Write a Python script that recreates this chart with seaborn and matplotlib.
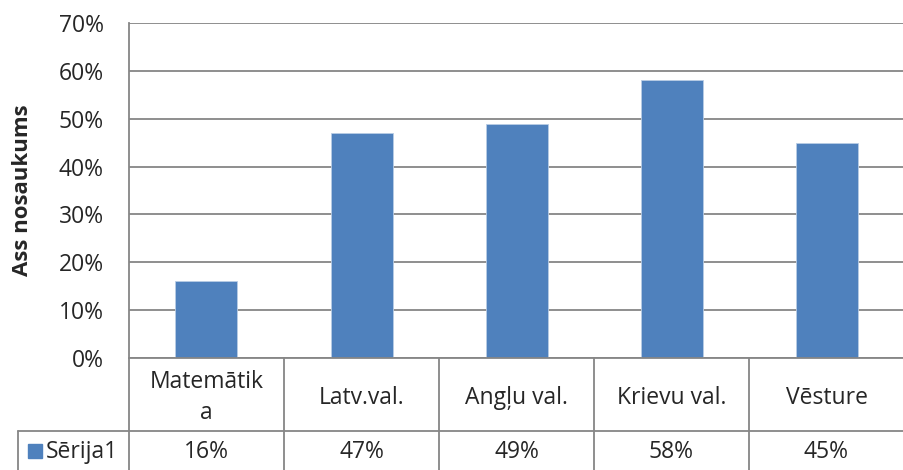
import matplotlib
matplotlib.use("Agg")
import matplotlib.pyplot as plt
import matplotlib.transforms as mtransforms
import seaborn as sns

# === dati ===
categories = ["Matemātika", "Latv.val.", "Angļu val.", "Krievu val.", "Vēsture"]
tick_labels = ["Matemātik\na", "Latv.val.", "Angļu val.", "Krievu val.", "Vēsture"]
values = [0.16, 0.47, 0.49, 0.58, 0.45]
series_name = "Sērija1"
y_ticks = [0.0, 0.1, 0.2, 0.3, 0.4, 0.5, 0.6, 0.7]

bar_color = "#4F81BD"
line_color = "#868686"
fs = 16.5

sns.set_style("white")
plt.rcParams["font.family"] = ["Open Sans", "DejaVu Sans"]

W, H = 904, 470
fig = plt.figure(figsize=(W / 100, H / 100), dpi=100)

# plot area in pixel coords
left, right, top, bottom = 129, 904, 23, 358
ax = fig.add_axes([left / W, 1 - bottom / H, (right - left) / W, (bottom - top) / H])

sns.barplot(x=categories, y=values, color=bar_color, width=0.4,
            saturation=1, ax=ax, edgecolor="#B9CDE5", linewidth=0.6)

ax.set_xlim(-0.5, len(categories) - 0.5)
ax.set_ylim(0, 0.7)
ax.set_yticks(y_ticks)
ax.set_yticklabels([f"{int(round(t * 100))}%" for t in y_ticks], fontsize=fs)
ax.tick_params(axis="y", length=0, pad=18)
ax.set_xticks([])
ax.set_xlabel("")
ax.set_ylabel("")
ax.yaxis.grid(True, color=line_color, linewidth=1.3)
ax.set_axisbelow(True)
for s in ["top", "right", "bottom"]:
    ax.spines[s].set_visible(False)
ax.spines["left"].set_color(line_color)
ax.spines["left"].set_linewidth(1.3)

# === datu tabula zem ass ===
plot_h = bottom - top
row1 = -(431 - bottom) / plot_h
row2 = -(470 - bottom) / plot_h
trans = mtransforms.blended_transform_factory(ax.transData, ax.transAxes)
legend_x = -(left - 18) / (right - left) * len(categories) - 0.5

lw = 1.3
# horizontal lines
ax.plot([-0.5, len(categories) - 0.5], [0, 0], transform=trans, color=line_color,
        lw=lw, clip_on=False)
ax.plot([legend_x, len(categories) - 0.5], [row1, row1], transform=trans,
        color=line_color, lw=lw, clip_on=False)
# vertical lines
for i in range(len(categories) + 1):
    ax.plot([i - 0.5, i - 0.5], [0, row2], transform=trans, color=line_color,
            lw=lw, clip_on=False)
ax.plot([legend_x, legend_x], [row1, row2], transform=trans, color=line_color,
        lw=lw, clip_on=False)

dy = 3 / plot_h
for i, (lab, v) in enumerate(zip(tick_labels, values)):
    ax.text(i, row1 / 2 - dy, lab, transform=trans, ha="center", va="center",
            fontsize=fs, linespacing=1.4)
    ax.text(i, (row1 + row2) / 2 - dy / 2, f"{int(round(v * 100))}%", transform=trans,
            ha="center", va="center", fontsize=fs)

# legend key + series name
key_x = legend_x + (35 - 18) / 155
ax.plot([key_x], [(row1 + row2) / 2], marker="s", markersize=10, color=bar_color,
        transform=trans, clip_on=False)
ax.text(legend_x + (46 - 18) / 155, (row1 + row2) / 2 - dy / 2, series_name,
        transform=trans, ha="left", va="center", fontsize=fs)

fig.text(23 / W, 1 - 190 / H, "Ass nosaukums", rotation=90, ha="center",
         va="center", fontsize=16, fontweight="bold")

fig.savefig("out.png", dpi=100)
